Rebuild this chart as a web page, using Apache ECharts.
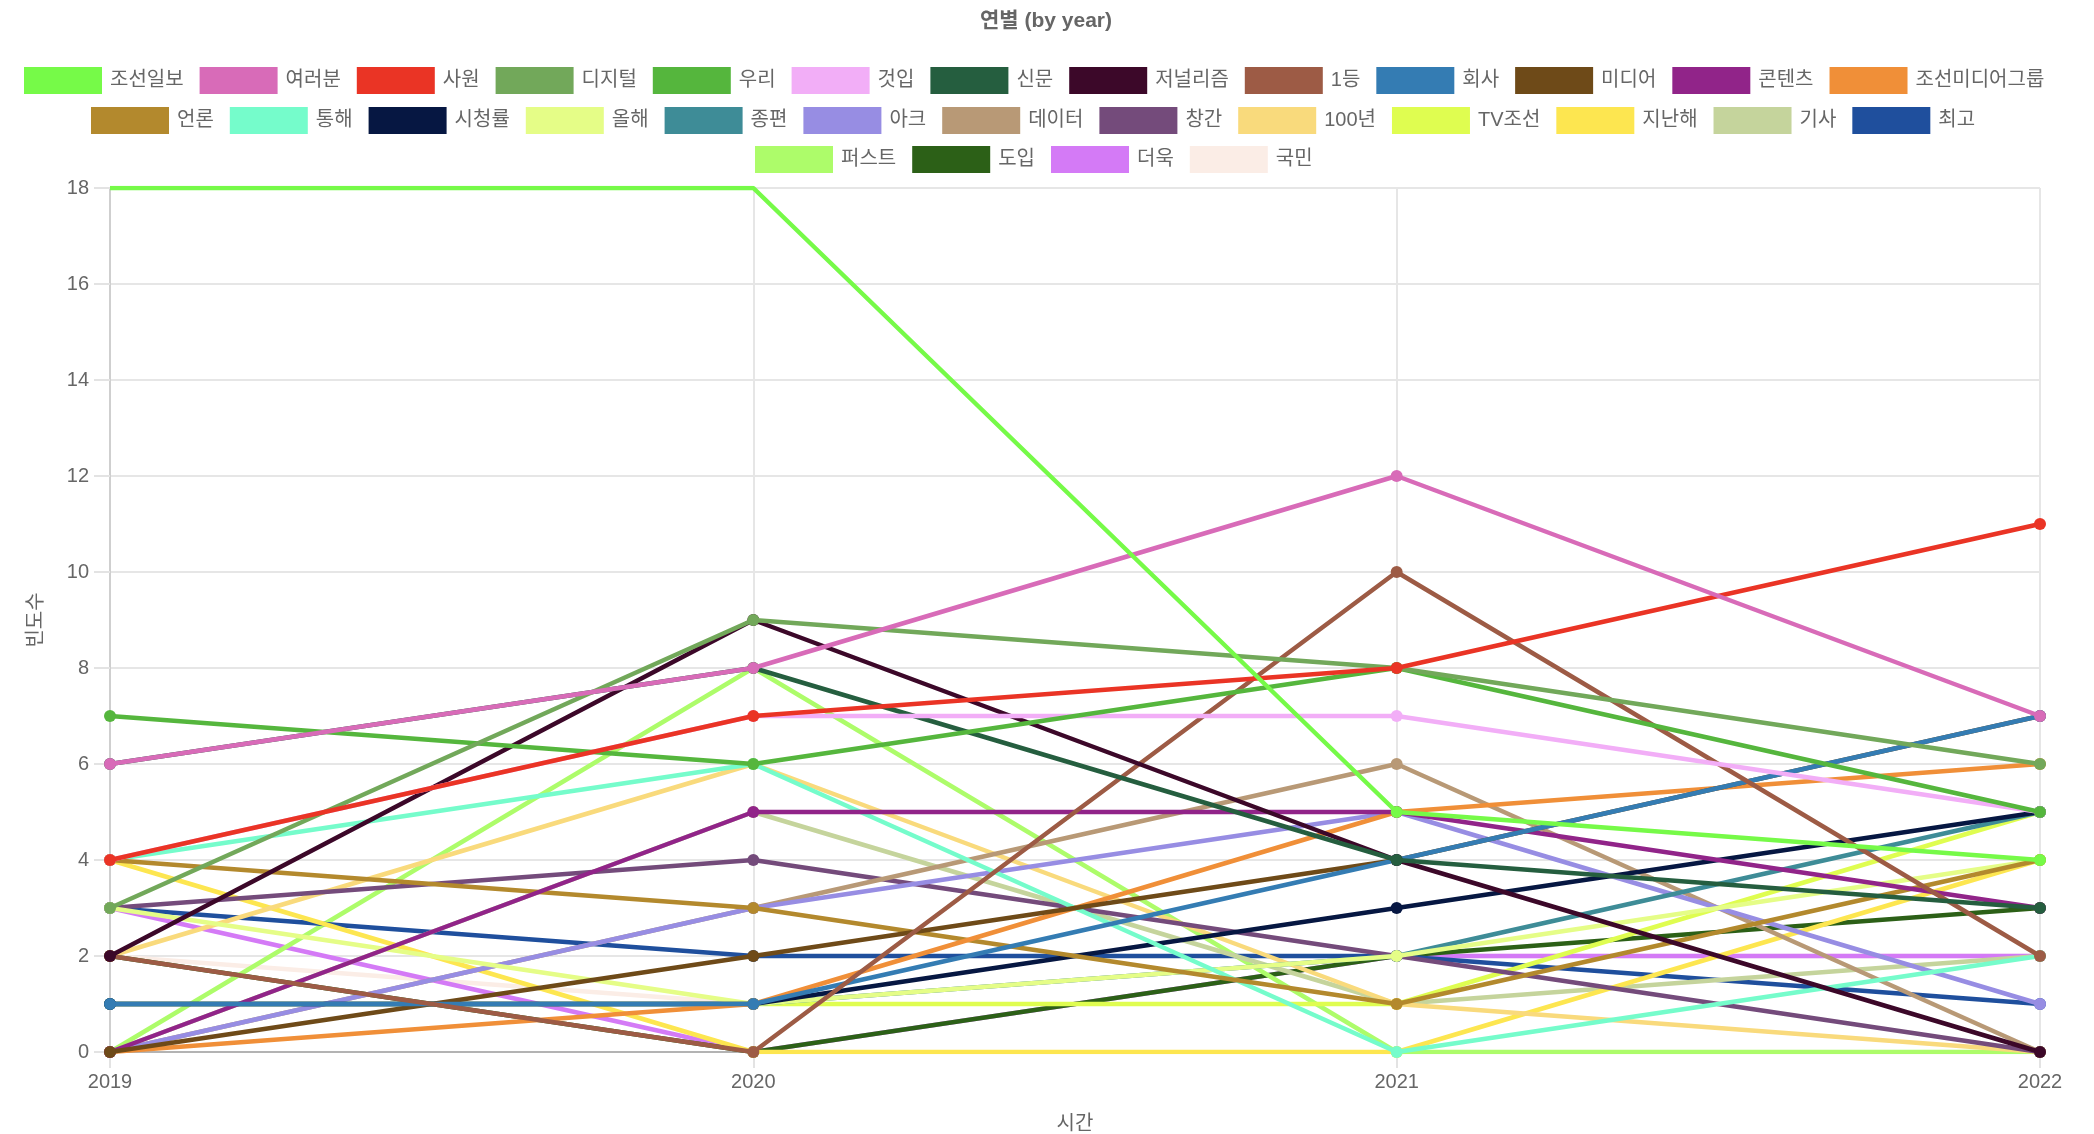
<!DOCTYPE html>
<html>
<head>
<meta charset="utf-8">
<title>연별 (by year)</title>
<script src="https://cdn.jsdelivr.net/npm/echarts@6/dist/echarts.min.js"></script>
<style>
  html, body { margin: 0; padding: 0; background: #fff; }
  #chart { width: 2094px; height: 1134px; }
</style>
</head>
<body>
<div id="chart"></div>
<script>
// 연도 (x축)
const years = ['2019', '2020', '2021', '2022'];

// 단어 (범례 순서 = 데이터셋 순서)
const words = ['조선일보', '여러분', '사원', '디지털', '우리', '것입', '신문', '저널리즘', '1등', '회사',
  '미디어', '콘텐츠', '조선미디어그룹', '언론', '통해', '시청률', '올해', '종편', '아크', '데이터',
  '창간', '100년', 'TV조선', '지난해', '기사', '최고', '퍼스트', '도입', '더욱', '국민'];

// 연도별 빈도수 (words 순서)
const y2019 = [18, 6, 4, 3, 7, 4, 6, 2, 2, 1, 0, 0, 0, 4, 4, 1, 3, 1, 0, 0, 3, 2, 1, 4, 0, 3, 0, 2, 3, 2];
const y2020 = [18, 8, 7, 9, 6, 7, 8, 9, 0, 1, 2, 5, 1, 3, 6, 1, 1, 1, 3, 3, 4, 6, 1, 0, 5, 2, 8, 0, 0, 1];
const y2021 = [5, 12, 8, 8, 8, 7, 4, 4, 10, 4, 4, 5, 5, 1, 0, 3, 2, 2, 5, 6, 2, 1, 1, 0, 1, 2, 0, 2, 2, 2];
const y2022 = [4, 7, 11, 6, 5, 5, 3, 0, 2, 7, 7, 3, 6, 4, 2, 5, 4, 5, 1, 0, 0, 0, 5, 4, 2, 1, 0, 3, 2, 2];

// y축 눈금
const yMin = 0, yMax = 18, yStep = 2;

const palette = ['#76fa48', '#d86bb8', '#ea3425', '#72a85a', '#55b63d', '#f2aef7', '#255e3f', '#3c0829',
  '#9d5b45', '#347cb3', '#6e4a18', '#912489', '#f08f38', '#b3892d', '#75fccb', '#061742', '#e5fd87',
  '#3e8c97', '#978de3', '#b89976', '#744b7b', '#f9da7c', '#dffd50', '#fde650', '#c5d49c', '#1f4f9d',
  '#adfc6a', '#2c6017', '#d47af6', '#fbede6'];

const font = "'Liberation Sans', 'Noto Sans CJK KR', sans-serif";

const legendBase = {
  icon: 'rect',
  itemWidth: 78,
  itemHeight: 27,
  itemGap: 16,
  padding: 0,
  textStyle: { fontSize: 20, color: '#666', fontFamily: font, padding: [0, 0, 0, 3] }
};

const series = words.map(function (name, i) {
  const vals = [y2019[i], y2020[i], y2021[i], y2022[i]];
  return {
    name: name,
    type: 'line',
    // 앞쪽 데이터셋이 위에 그려지도록
    z: 100 - i,
    symbol: 'circle',
    symbolSize: 12,
    showAllSymbol: true,
    clip: true,
    color: palette[i],
    itemStyle: { color: palette[i] },
    lineStyle: { width: 4.5, color: palette[i] },
    emphasis: { disabled: true },
    data: vals.map(v => v >= yMax ? { value: v, symbol: 'none' } : v)
  };
});

const chart = echarts.init(document.getElementById('chart'));
chart.setOption({
  backgroundColor: '#fff',
  animation: false,
  textStyle: { fontFamily: font },
  title: {
    text: '연별 (by year)',
    left: 975,
    top: 6,
    textStyle: { fontSize: 21, fontWeight: 'bold', color: '#666', fontFamily: font }
  },
  tooltip: { trigger: 'axis' },
  legend: [
    Object.assign({}, legendBase, { left: 24, top: 67, data: words.slice(0, 13) }),
    Object.assign({}, legendBase, { left: 91, top: 107, data: words.slice(13, 26) }),
    Object.assign({}, legendBase, { left: 755, top: 146, data: words.slice(26) })
  ],
  grid: { left: 110, right: 54, top: 188, bottom: 82, outerBoundsMode: 'none' },
  xAxis: {
    type: 'category',
    data: years,
    boundaryGap: false,
    name: '시간',
    nameLocation: 'middle',
    nameGap: 62,
    nameTextStyle: { fontSize: 20, color: '#666', fontFamily: font },
    axisLine: { lineStyle: { color: '#b3b3b3', width: 2 } },
    axisTick: { show: true, length: 16, lineStyle: { color: '#e3e3e3', width: 2 } },
    axisLabel: { fontSize: 20, color: '#666', margin: 20, fontFamily: font },
    splitLine: { show: true, lineStyle: { color: '#e6e6e6', width: 2 } }
  },
  yAxis: {
    type: 'value',
    min: yMin,
    max: yMax,
    interval: yStep,
    name: '빈도수',
    nameLocation: 'middle',
    nameGap: 64,
    nameRotate: 90,
    nameTextStyle: { fontSize: 20, color: '#666', fontFamily: font },
    axisLine: { show: true, lineStyle: { color: '#cfcfcf', width: 2 } },
    axisTick: { show: true, length: 16, lineStyle: { color: '#e3e3e3', width: 2 } },
    axisLabel: { fontSize: 20, color: '#666', margin: 21, fontFamily: font },
    splitLine: { show: true, lineStyle: { color: '#e6e6e6', width: 2 } }
  },
  series: series
});
</script>
</body>
</html>
